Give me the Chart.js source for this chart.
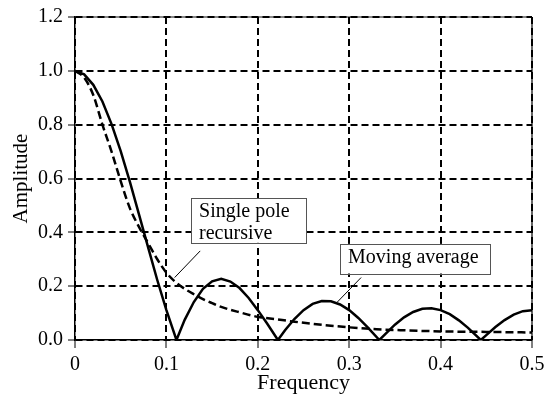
<!DOCTYPE html>
<html>
<head>
<meta charset="utf-8">
<script src="https://cdn.jsdelivr.net/npm/chart.js@4.4.1/dist/chart.umd.min.js"></script>
<style>
  html, body { margin: 0; padding: 0; background: #fff; }
  #wrap { width: 553px; height: 400px; }
</style>
</head>
<body>
<div id="wrap"><canvas id="chart"></canvas></div>
<script>
// Moving average (solid curve)
const maFreq = [0, 0.01, 0.02, 0.03, 0.04, 0.05, 0.06, 0.07, 0.08, 0.09, 0.10, 0.111,
  0.12, 0.13, 0.14, 0.15, 0.16, 0.17, 0.18, 0.19, 0.20, 0.21, 0.222,
  0.23, 0.24, 0.25, 0.26, 0.27, 0.28, 0.29, 0.30, 0.31, 0.32, 0.333,
  0.34, 0.35, 0.36, 0.37, 0.38, 0.39, 0.40, 0.41, 0.42, 0.43, 0.444,
  0.45, 0.46, 0.47, 0.48, 0.49, 0.50];
const maAmp = [1.0, 0.987, 0.948, 0.886, 0.802, 0.702, 0.588, 0.467, 0.344, 0.223, 0.111, 0,
  0.075, 0.141, 0.190, 0.218, 0.227, 0.217, 0.193, 0.156, 0.111, 0.062, 0,
  0.037, 0.078, 0.111, 0.134, 0.145, 0.144, 0.132, 0.111, 0.082, 0.048, 0,
  0.024, 0.057, 0.084, 0.104, 0.116, 0.118, 0.111, 0.096, 0.073, 0.045, 0,
  0.018, 0.048, 0.074, 0.094, 0.107, 0.111];

// Single pole recursive (dashed curve)
const spFreq = [0, 0.01, 0.02, 0.03, 0.04, 0.05, 0.06, 0.07, 0.08, 0.09, 0.10, 0.11,
  0.12, 0.13, 0.14, 0.15, 0.16, 0.18, 0.20, 0.22, 0.24, 0.26, 0.28, 0.30,
  0.33, 0.36, 0.40, 0.45, 0.50];
const spAmp = [1.0, 0.975, 0.91, 0.80, 0.70, 0.59, 0.49, 0.42, 0.36, 0.30, 0.25, 0.215,
  0.19, 0.17, 0.152, 0.137, 0.123, 0.103, 0.086, 0.077, 0.068, 0.060, 0.053, 0.047,
  0.040, 0.036, 0.032, 0.030, 0.028];

const xTickValues = [0, 0.1, 0.2, 0.3, 0.4, 0.5];
const xTickLabels = ['0', '0.1', '0.2', '0.3', '0.4', '0.5'];
const yTickValues = [0, 0.2, 0.4, 0.6, 0.8, 1.0, 1.2];
const yTickLabels = ['0.0', '0.2', '0.4', '0.6', '0.8', '1.0', '1.2'];

const SERIF = "'Liberation Serif', 'Times New Roman', serif";
Chart.defaults.color = '#000';
Chart.defaults.font.family = SERIF;

// labels in boxes, placed in data units
const notes = [
  { lines: ['Single pole', 'recursive'], box: [0.127, 0.527, 0.253, 0.361], lead: [0.137, 0.331, 0.109, 0.232] },
  { lines: ['Moving average'], box: [0.290, 0.357, 0.454, 0.247], lead: [0.313, 0.232, 0.287, 0.141] }
];

// solid frame on top (grey) and right (black) under the dashed grid
const framePlugin = {
  id: 'frame',
  beforeDraw(chart) {
    const { ctx, chartArea: a } = chart;
    ctx.save();
    ctx.lineWidth = 2;
    ctx.strokeStyle = '#888';
    ctx.beginPath();
    ctx.moveTo(a.left, a.top);
    ctx.lineTo(a.right, a.top);
    ctx.stroke();
    ctx.strokeStyle = '#000';
    ctx.lineWidth = 1.2;
    ctx.beginPath();
    ctx.moveTo(a.right, a.top);
    ctx.lineTo(a.right, a.bottom);
    ctx.stroke();
    ctx.restore();
  }
};

const notePlugin = {
  id: 'notes',
  afterDraw(chart) {
    const { ctx, scales: { x, y } } = chart;
    ctx.save();
    notes.forEach(n => {
      const l = x.getPixelForValue(n.box[0]), t = y.getPixelForValue(n.box[1]);
      const r = x.getPixelForValue(n.box[2]), b = y.getPixelForValue(n.box[3]);
      ctx.strokeStyle = '#000';
      ctx.lineWidth = 1;
      ctx.beginPath();
      ctx.moveTo(x.getPixelForValue(n.lead[0]), y.getPixelForValue(n.lead[1]));
      ctx.lineTo(x.getPixelForValue(n.lead[2]), y.getPixelForValue(n.lead[3]));
      ctx.stroke();
      ctx.fillStyle = '#fff';
      ctx.fillRect(l, t, r - l, b - t);
      ctx.strokeStyle = '#555';
      ctx.strokeRect(Math.round(l) + 0.5, Math.round(t) + 0.5, Math.round(r - l), Math.round(b - t));
      ctx.fillStyle = '#000';
      ctx.font = '20px ' + SERIF;
      ctx.textBaseline = 'alphabetic';
      n.lines.forEach((s, i) => ctx.fillText(s, l + 8, t + 19 + i * 22));
    });
    ctx.restore();
  }
};

new Chart(document.getElementById('chart'), {
  type: 'line',
  data: {
    datasets: [{
      label: 'Moving average',
      data: maFreq.map((f, i) => ({ x: f, y: maAmp[i] })),
      borderColor: '#000',
      borderWidth: 2.5,
      pointRadius: 0,
      tension: 0
    }, {
      label: 'Single pole recursive',
      data: spFreq.map((f, i) => ({ x: f, y: spAmp[i] })),
      borderColor: '#000',
      borderWidth: 2.5,
      borderDash: [8, 4],
      pointRadius: 0,
      cubicInterpolationMode: 'monotone'
    }]
  },
  options: {
    responsive: true,
    maintainAspectRatio: false,
    animation: false,
    layout: { padding: { top: 14, right: 21, left: 0, bottom: 0 } },
    plugins: { legend: { display: false }, tooltip: { enabled: false } },
    scales: {
      x: {
        type: 'linear',
        min: 0,
        max: 0.5,
        afterBuildTicks: s => { s.ticks = xTickValues.map(v => ({ value: v })); },
        afterFit: s => { s.height = 60; },
        ticks: {
          autoSkip: false,
          maxRotation: 0,
          padding: 5,
          font: { size: 20 },
          callback: (v, i) => xTickLabels[i]
        },
        grid: { color: '#000', lineWidth: 2, tickLength: 8, tickColor: '#000', tickWidth: 1 },
        border: { display: true, color: '#000', width: 1.5, dash: [7, 4] },
        title: { display: true, text: 'Frequency', font: { size: 22 }, padding: { top: 0, bottom: 4 } }
      },
      y: {
        min: 0,
        max: 1.2,
        afterBuildTicks: s => { s.ticks = yTickValues.map(v => ({ value: v })); },
        afterFit: s => { s.width = 75; },
        ticks: {
          autoSkip: false,
          padding: 5,
          font: { size: 20 },
          callback: (v, i) => yTickLabels[i]
        },
        grid: { color: '#000', lineWidth: 2, tickLength: 7, tickColor: '#000', tickWidth: 1 },
        border: { display: true, color: '#000', width: 1.5, dash: [7, 4] },
        title: { display: true, text: 'Amplitude', font: { size: 21 }, padding: { top: 9, bottom: 0 } }
      }
    }
  },
  plugins: [framePlugin, notePlugin]
});
</script>
</body>
</html>
